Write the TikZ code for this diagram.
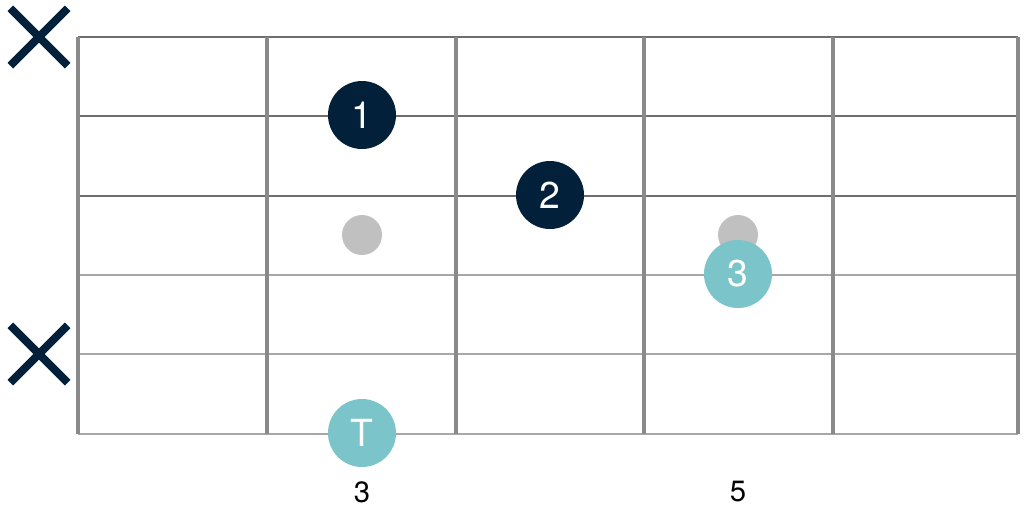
\documentclass[tikz,border=0pt]{standalone}
\usepackage{fontspec}
\setmainfont{TeX Gyre Heros}
\usepackage{tikz}
\usetikzlibrary{shapes.misc}
\definecolor{fbnavy}{RGB}{2,32,58}
\definecolor{fbteal}{RGB}{123,196,201}
\definecolor{fbdot}{RGB}{192,192,192}
\definecolor{fbfret}{RGB}{138,138,138}
\definecolor{fbstring}{RGB}{110,110,110}

\begin{document}
\begin{tikzpicture}[x=0.75pt, y=-0.75pt,
    fret/.style={line width=2.4pt, fbfret},
    thinstring/.style={line width=0.8pt, fbstring},
    woundstring/.style={line width=1.4pt, fbfret!75},
    finger/.style={circle, fill=fbnavy, text=white, minimum size=51pt, inner sep=0pt, font=\fontsize{28}{32}\selectfont},
    thumbdot/.style={circle, fill=fbteal, text=white, minimum size=51pt, inner sep=0pt, font=\fontsize{28}{32}\selectfont},
    ghost/.style={circle, fill=fbdot, minimum size=30pt, inner sep=0pt},
    muted/.style={cross out, draw=fbnavy, line width=6pt, minimum size=37pt, inner sep=0pt},
    fretnum/.style={font=\fontsize{22}{26}\selectfont}]
    \useasboundingbox (0,0) rectangle (1024,519);

    % strings
    \foreach \y in {37,116,196}
        \draw[thinstring] (78,\y) -- (1018,\y);
    \foreach \y in {275,354,434}
        \draw[woundstring] (78,\y) -- (1018,\y);

    % frets
    \foreach \x in {78,267,456,644,833,1018}
        \draw[fret] (\x,37) -- (\x,434);

    % muted strings
    \node[muted] (mutetop) at (39,37) {};
    \node[muted] (mutelow) at (39,354) {};

    % ghost notes
    \node[ghost] (ghostA) at (362,235) {};
    \node[ghost] (ghostB) at (738,235) {};

    % fingering
    \node[finger] (one) at (362,115) {1};
    \node[finger] (two) at (550,195) {2};
    \node[thumbdot] (three) at (738,274) {3};
    \node[thumbdot] (thumb) at (362,433) {T};

    % fret numbers
    \node[fretnum] (fretthree) at (362,492) {3};
    \node[fretnum] (fretfive) at (738,492) {5};
\end{tikzpicture}
\end{document}
